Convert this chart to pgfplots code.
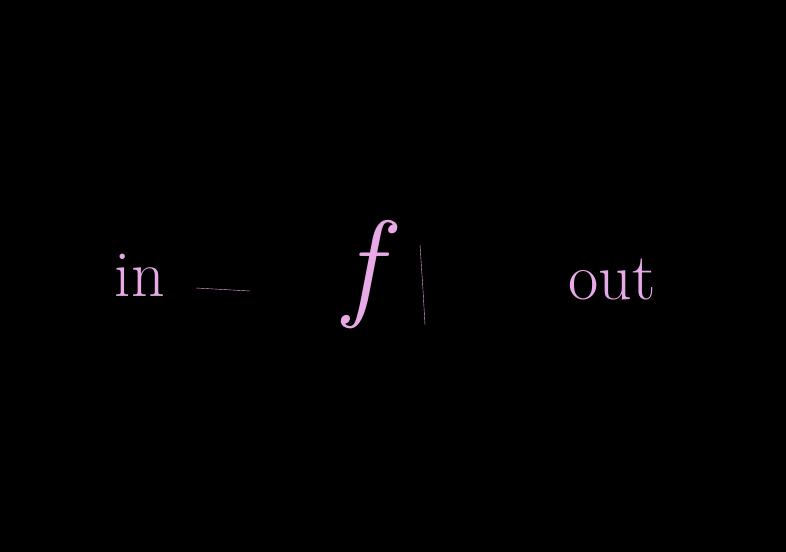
\documentclass[border=0pt]{standalone}
\usepackage{pgfplots}
\pgfplotsset{compat=1.18}
\definecolor{pk}{RGB}{232,170,230}
\begin{document}
\begin{tikzpicture}
\begin{axis}[width=786bp,height=552bp,scale only axis,hide axis,
  xmin=0,xmax=786,ymin=-552,ymax=0,clip=false,
  cycle list={{pk,mark=none,line width=2.2pt,line cap=round,line join=round}}]
\fill[black] (axis cs:0,-552) rectangle (axis cs:786,0);
% arrow 1
\addplot coordinates {(196,-288) (250,-291)};
\addplot coordinates {(224,-277) (256,-291) (226,-303)};
% box
\addplot coordinates {(281,-240) (287,-300) (293,-370)};
\addplot coordinates {(298,-186) (390,-182)};
\addplot coordinates {(392,-186) (402,-188) (405,-240) (408,-295)};
\addplot coordinates {(420,-245) (423,-290) (425,-325)};
\addplot coordinates {(300,-382) (390,-378)};
% arrow 2
\addplot coordinates {(455,-273) (520,-276)};
\addplot coordinates {(486,-262) (525,-275) (490,-288)};
\node[pk,anchor=center] at (axis cs:140,-275) {\fontsize{66}{66}\selectfont in};
\node[pk,anchor=center] at (axis cs:362,-275) {\fontsize{120}{120}\selectfont\itshape f};
\node[pk,anchor=center] at (axis cs:612,-280) {\fontsize{66}{66}\selectfont out};
\end{axis}
\end{tikzpicture}
\end{document}
